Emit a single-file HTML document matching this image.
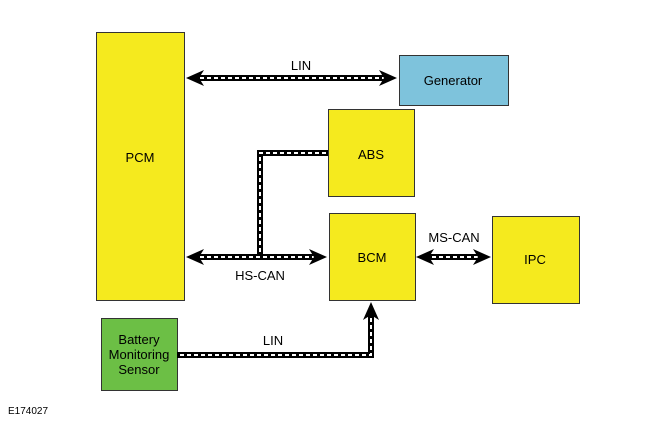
<!DOCTYPE html>
<html><head><style>body{margin:0;background:#fff}svg{display:block}text{font-family:"Liberation Sans",Arial,sans-serif;font-size:13px;fill:#000}</style></head>
<body>
<svg width="650" height="425" viewBox="0 0 650 425">
<g stroke="#333" stroke-width="1">
<rect x="96.5" y="32.5" width="88" height="268" fill="#f5ea1e"/>
<rect x="399.5" y="55.5" width="109" height="50" fill="#7ec3dc"/>
<rect x="328.5" y="109.5" width="86" height="87" fill="#f5ea1e"/>
<rect x="329.5" y="213.5" width="86" height="87" fill="#f5ea1e"/>
<rect x="492.5" y="216.5" width="87" height="87" fill="#f5ea1e"/>
<rect x="101.5" y="318.5" width="76" height="72" fill="#6cbf45"/>
</g>
<g fill="none" stroke="#000" stroke-width="6">
<path d="M196 78H387"/>
<path d="M196 257H318"/>
<path d="M260 257V153H328"/>
<path d="M428 257H481"/>
<path d="M177 355H371V314"/>
</g>
<g fill="none" stroke="#fff" stroke-width="2" stroke-dasharray="4,3">
<path d="M200 78H384"/>
<path d="M200 257H316"/>
<path d="M260 252V153H326"/>
<path d="M432 257H478"/>
<path d="M180 355H371V316"/>
</g>
<g fill="#000">
<polygon points="186,78 204,70 199,78 204,86"/>
<polygon points="397,78 379,70 384,78 379,86"/>
<polygon points="186,257 204,249 199,257 204,265"/>
<polygon points="327,257 309,249 314,257 309,265"/>
<polygon points="416,257 434,249 429,257 434,265"/>
<polygon points="491,257 473,249 478,257 473,265"/>
<polygon points="371,302 363,320 371,315 379,320"/>
</g>
<text x="140" y="162" text-anchor="middle">PCM</text>
<text x="453" y="85" text-anchor="middle">Generator</text>
<text x="371" y="159" text-anchor="middle">ABS</text>
<text x="372" y="262" text-anchor="middle">BCM</text>
<text x="535" y="264" text-anchor="middle">IPC</text>
<text x="139" y="344" text-anchor="middle">Battery</text>
<text x="139" y="359" text-anchor="middle">Monitoring</text>
<text x="139" y="374" text-anchor="middle">Sensor</text>
<text x="301" y="70" text-anchor="middle">LIN</text>
<text x="260" y="280" text-anchor="middle">HS-CAN</text>
<text x="454" y="242" text-anchor="middle">MS-CAN</text>
<text x="273" y="345" text-anchor="middle">LIN</text>
<text x="8" y="414" style="font-size:10px">E174027</text>
</svg>
</body></html>
